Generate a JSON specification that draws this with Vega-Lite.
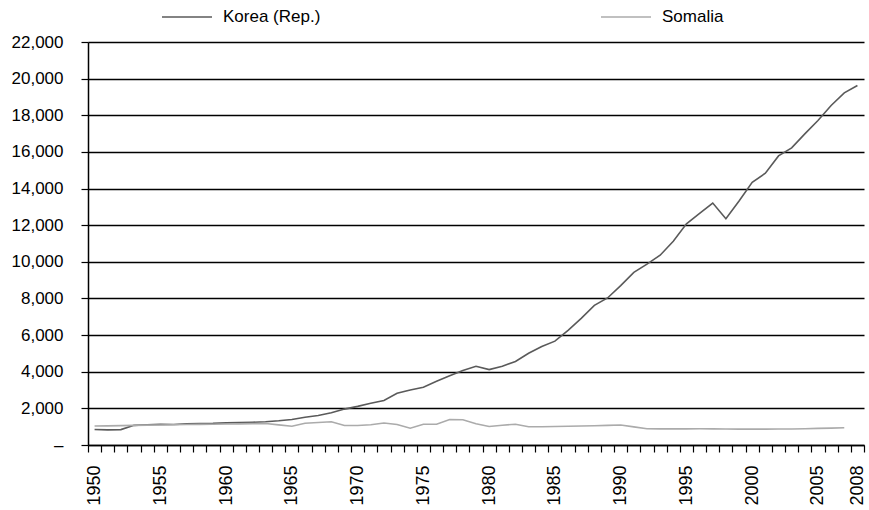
{
  "$schema": "https://vega.github.io/schema/vega-lite/v6.json",
  "width": 776,
  "height": 403,
  "autosize": {"type": "none"},
  "padding": {"left": 88, "top": 42, "right": 5, "bottom": 60},
  "config": {
    "font": "Liberation Sans",
    "view": {"stroke": null},
    "axis": {"labelFont": "Liberation Sans", "labelFontSize": 17, "labelColor": "#000", "domainColor": "#000", "tickColor": "#000", "domainWidth": 1.5, "tickWidth": 1.2}
  },
  "datasets": {
    "gdp": [
      {"year":1950,"country":"Korea (Rep.)","gdp":850},{"year":1951,"country":"Korea (Rep.)","gdp":825},{"year":1952,"country":"Korea (Rep.)","gdp":840},{"year":1953,"country":"Korea (Rep.)","gdp":1072},{"year":1954,"country":"Korea (Rep.)","gdp":1105},{"year":1955,"country":"Korea (Rep.)","gdp":1135},{"year":1956,"country":"Korea (Rep.)","gdp":1120},{"year":1957,"country":"Korea (Rep.)","gdp":1153},{"year":1958,"country":"Korea (Rep.)","gdp":1177},{"year":1959,"country":"Korea (Rep.)","gdp":1185},{"year":1960,"country":"Korea (Rep.)","gdp":1210},{"year":1961,"country":"Korea (Rep.)","gdp":1225},{"year":1962,"country":"Korea (Rep.)","gdp":1240},{"year":1963,"country":"Korea (Rep.)","gdp":1270},{"year":1964,"country":"Korea (Rep.)","gdp":1320},{"year":1965,"country":"Korea (Rep.)","gdp":1392},{"year":1966,"country":"Korea (Rep.)","gdp":1518},{"year":1967,"country":"Korea (Rep.)","gdp":1610},{"year":1968,"country":"Korea (Rep.)","gdp":1757},{"year":1969,"country":"Korea (Rep.)","gdp":1960},{"year":1970,"country":"Korea (Rep.)","gdp":2110},{"year":1971,"country":"Korea (Rep.)","gdp":2280},{"year":1972,"country":"Korea (Rep.)","gdp":2430},{"year":1973,"country":"Korea (Rep.)","gdp":2824},{"year":1974,"country":"Korea (Rep.)","gdp":3000},{"year":1975,"country":"Korea (Rep.)","gdp":3155},{"year":1976,"country":"Korea (Rep.)","gdp":3476},{"year":1977,"country":"Korea (Rep.)","gdp":3775},{"year":1978,"country":"Korea (Rep.)","gdp":4064},{"year":1979,"country":"Korea (Rep.)","gdp":4294},{"year":1980,"country":"Korea (Rep.)","gdp":4114},{"year":1981,"country":"Korea (Rep.)","gdp":4302},{"year":1982,"country":"Korea (Rep.)","gdp":4557},{"year":1983,"country":"Korea (Rep.)","gdp":5007},{"year":1984,"country":"Korea (Rep.)","gdp":5375},{"year":1985,"country":"Korea (Rep.)","gdp":5670},{"year":1986,"country":"Korea (Rep.)","gdp":6263},{"year":1987,"country":"Korea (Rep.)","gdp":6916},{"year":1988,"country":"Korea (Rep.)","gdp":7621},{"year":1989,"country":"Korea (Rep.)","gdp":8027},{"year":1990,"country":"Korea (Rep.)","gdp":8704},{"year":1991,"country":"Korea (Rep.)","gdp":9425},{"year":1992,"country":"Korea (Rep.)","gdp":9872},{"year":1993,"country":"Korea (Rep.)","gdp":10358},{"year":1994,"country":"Korea (Rep.)","gdp":11125},{"year":1995,"country":"Korea (Rep.)","gdp":12074},{"year":1996,"country":"Korea (Rep.)","gdp":12640},{"year":1997,"country":"Korea (Rep.)","gdp":13210},{"year":1998,"country":"Korea (Rep.)","gdp":12350},{"year":1999,"country":"Korea (Rep.)","gdp":13317},{"year":2000,"country":"Korea (Rep.)","gdp":14343},{"year":2001,"country":"Korea (Rep.)","gdp":14836},{"year":2002,"country":"Korea (Rep.)","gdp":15780},{"year":2003,"country":"Korea (Rep.)","gdp":16223},{"year":2004,"country":"Korea (Rep.)","gdp":16987},{"year":2005,"country":"Korea (Rep.)","gdp":17713},{"year":2006,"country":"Korea (Rep.)","gdp":18532},{"year":2007,"country":"Korea (Rep.)","gdp":19225},{"year":2008,"country":"Korea (Rep.)","gdp":19624},
      {"year":1950,"country":"Somalia","gdp":1040},{"year":1951,"country":"Somalia","gdp":1045},{"year":1952,"country":"Somalia","gdp":1055},{"year":1953,"country":"Somalia","gdp":1070},{"year":1954,"country":"Somalia","gdp":1085},{"year":1955,"country":"Somalia","gdp":1095},{"year":1956,"country":"Somalia","gdp":1105},{"year":1957,"country":"Somalia","gdp":1115},{"year":1958,"country":"Somalia","gdp":1125},{"year":1959,"country":"Somalia","gdp":1135},{"year":1960,"country":"Somalia","gdp":1145},{"year":1961,"country":"Somalia","gdp":1155},{"year":1962,"country":"Somalia","gdp":1165},{"year":1963,"country":"Somalia","gdp":1170},{"year":1964,"country":"Somalia","gdp":1100},{"year":1965,"country":"Somalia","gdp":1026},{"year":1966,"country":"Somalia","gdp":1190},{"year":1967,"country":"Somalia","gdp":1230},{"year":1968,"country":"Somalia","gdp":1270},{"year":1969,"country":"Somalia","gdp":1064},{"year":1970,"country":"Somalia","gdp":1064},{"year":1971,"country":"Somalia","gdp":1105},{"year":1972,"country":"Somalia","gdp":1200},{"year":1973,"country":"Somalia","gdp":1119},{"year":1974,"country":"Somalia","gdp":917},{"year":1975,"country":"Somalia","gdp":1135},{"year":1976,"country":"Somalia","gdp":1135},{"year":1977,"country":"Somalia","gdp":1392},{"year":1978,"country":"Somalia","gdp":1375},{"year":1979,"country":"Somalia","gdp":1157},{"year":1980,"country":"Somalia","gdp":1010},{"year":1981,"country":"Somalia","gdp":1081},{"year":1982,"country":"Somalia","gdp":1135},{"year":1983,"country":"Somalia","gdp":993},{"year":1984,"country":"Somalia","gdp":1000},{"year":1985,"country":"Somalia","gdp":1010},{"year":1986,"country":"Somalia","gdp":1020},{"year":1987,"country":"Somalia","gdp":1035},{"year":1988,"country":"Somalia","gdp":1050},{"year":1989,"country":"Somalia","gdp":1070},{"year":1990,"country":"Somalia","gdp":1095},{"year":1991,"country":"Somalia","gdp":990},{"year":1992,"country":"Somalia","gdp":884},{"year":1993,"country":"Somalia","gdp":880},{"year":1994,"country":"Somalia","gdp":880},{"year":1995,"country":"Somalia","gdp":882},{"year":1996,"country":"Somalia","gdp":884},{"year":1997,"country":"Somalia","gdp":880},{"year":1998,"country":"Somalia","gdp":870},{"year":1999,"country":"Somalia","gdp":866},{"year":2000,"country":"Somalia","gdp":864},{"year":2001,"country":"Somalia","gdp":866},{"year":2002,"country":"Somalia","gdp":870},{"year":2003,"country":"Somalia","gdp":876},{"year":2004,"country":"Somalia","gdp":888},{"year":2005,"country":"Somalia","gdp":905},{"year":2006,"country":"Somalia","gdp":922},{"year":2007,"country":"Somalia","gdp":939}
    ]
  },
  "data": {"name": "gdp"},
  "mark": {"type": "line", "strokeWidth": 1.6, "clip": false},
  "encoding": {
    "x": {
      "field": "year", "type": "quantitative",
      "scale": {"domain": [1949.5, 2008.5], "nice": false, "zero": false},
      "axis": {
        "title": null, "grid": false,
        "values": [1949.5,1950.5,1951.5,1952.5,1953.5,1954.5,1955.5,1956.5,1957.5,1958.5,1959.5,1960.5,1961.5,1962.5,1963.5,1964.5,1965.5,1966.5,1967.5,1968.5,1969.5,1970.5,1971.5,1972.5,1973.5,1974.5,1975.5,1976.5,1977.5,1978.5,1979.5,1980.5,1981.5,1982.5,1983.5,1984.5,1985.5,1986.5,1987.5,1988.5,1989.5,1990.5,1991.5,1992.5,1993.5,1994.5,1995.5,1996.5,1997.5,1998.5,1999.5,2000.5,2001.5,2002.5,2003.5,2004.5,2005.5,2006.5,2007.5,2008.5],
        "labelExpr": "(datum.value + 0.5) % 5 == 0 || datum.value == 2007.5 ? '' + (datum.value + 0.5) : ''",
        "labelOffset": 6.58,
        "labelAngle": -90,
        "labelAlign": "right",
        "labelBaseline": "middle",
        "labelOverlap": false,
        "labelBound": false,
        "labelFlush": false,
        "labelFontSize": 18,
        "tickSize": 7,
        "labelPadding": 13
      }
    },
    "y": {
      "field": "gdp", "type": "quantitative",
      "scale": {"domain": [0, 22000], "nice": false},
      "axis": {
        "title": null,
        "values": [0,2000,4000,6000,8000,10000,12000,14000,16000,18000,20000,22000],
        "labelExpr": "datum.value == 0 ? '–' : format(datum.value, ',')",
        "grid": true, "gridColor": "#000", "gridWidth": 1.5, "gridOpacity": 1,
        "tickSize": 7, "labelPadding": 18
      }
    },
    "color": {
      "field": "country", "type": "nominal",
      "scale": {"domain": ["Korea (Rep.)", "Somalia"], "range": ["#5a5a5a", "#ababab"]},
      "legend": {
        "title": null, "orient": "none", "legendX": 73, "legendY": -51,
        "direction": "horizontal", "columns": 2, "columnPadding": 276,
        "symbolType": "stroke", "symbolSize": 2500, "symbolStrokeWidth": 1.6,
        "labelFontSize": 17, "labelFont": "Liberation Sans", "labelColor": "#000", "labelOffset": 10, "labelLimit": 300
      }
    }
  }
}
